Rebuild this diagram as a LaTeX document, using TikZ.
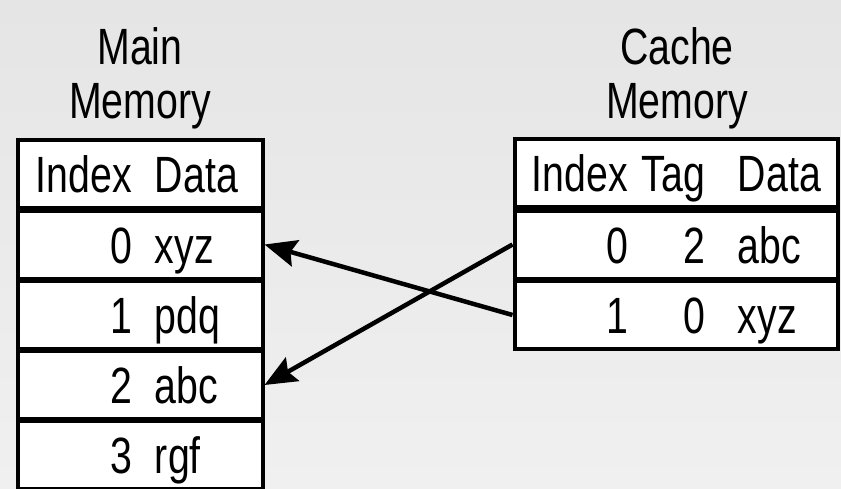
\documentclass[tikz,border=0pt]{standalone}
\usepackage{fontspec}
\setmainfont{Liberation Sans}[FakeStretch=0.77]
\usetikzlibrary{arrows.meta}
\usetikzlibrary{positioning}
\definecolor{bgtop}{RGB}{229,229,229}
\definecolor{bgbot}{RGB}{240,240,240}
\newcommand{\mainrow}[2]{\hbox to 245pt{\hbox to 114.5pt{\hfil#1}\hskip23pt #2\hfil}}
\newcommand{\cacherow}[3]{\hbox to 323pt{\hbox to 113.5pt{\hfil#1}\hbox to 77pt{\hfil#2}\hskip33pt #3\hfil}}
\tikzset{
  cell/.style={draw,fill=white,line width=4pt,inner xsep=0pt,inner ysep=0pt,
    minimum height=68pt,text height=37pt,text depth=0pt},
  title/.style={align=center,inner sep=0pt,anchor=north},
  link/.style={line width=4.5pt,-{Stealth[length=32pt,width=27pt,inset=5pt]}}
}
\begin{document}
\begin{tikzpicture}[x=1pt,y=-1pt,font=\fontsize{51}{54}\selectfont]
\useasboundingbox (0,0) rectangle (841,488);
\shade[top color=bgtop,bottom color=bgbot] (0,0) rectangle (841,488);
\clip (0,0) rectangle (841,488);
\node[title] (MainT) at (140,27) {Main\\Memory};
\node[title] (CacheT) at (677,27) {Cache\\Memory};
% main memory
\node[cell] (MH) at (140,173.5) {\mainrow{Index}{Data}};
\node[cell] (M0) at (140,244.5) {\mainrow{0}{xyz}};
\node[cell] (M1) at (140,315) {\mainrow{1}{pdq}};
\node[cell] (M2) at (140,385) {\mainrow{2}{abc}};
\node[cell] (M3) at (140,455) {\mainrow{3}{rgf}};
% cache memory
\node[cell] (CH) at (676,173) {\cacherow{Index}{Tag}{Data}};
\node[cell] (C0) at (676,244.5) {\cacherow{0}{2}{abc}};
\node[cell] (C1) at (676,315) {\cacherow{1}{0}{xyz}};
\draw
  (C1.west) edge [link] (M0.east)
  (C0.west) edge [link] (M2.east);
\end{tikzpicture}
\end{document}
